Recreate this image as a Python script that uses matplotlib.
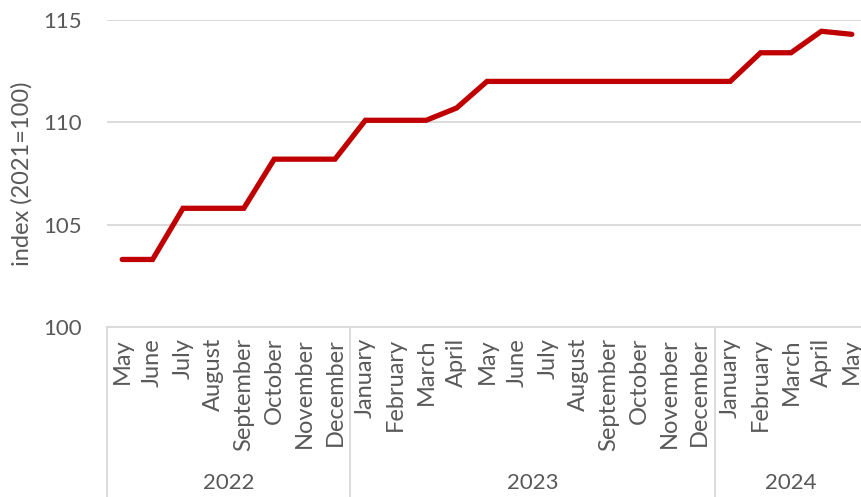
import matplotlib
matplotlib.use("Agg")
import matplotlib.pyplot as plt
import matplotlib.transforms as mtransforms

months = ["May", "June", "July", "August", "September", "October", "November", "December",
          "January", "February", "March", "April", "May", "June", "July", "August",
          "September", "October", "November", "December",
          "January", "February", "March", "April", "May"]
values = [103.3, 103.3, 105.8, 105.8, 105.8, 108.2, 108.2, 108.2,
          110.1, 110.1, 110.1, 110.7, 112.0, 112.0, 112.0, 112.0,
          112.0, 112.0, 112.0, 112.0,
          112.0, 113.4, 113.4, 114.45, 114.3]
years = ["2022", "2023", "2024"]
year_counts = [8, 12, 5]
yticks = [100, 105, 110, 115]

W, H = 861, 497
fig = plt.figure(figsize=(W / 100, H / 100), dpi=100)
plt.rcParams['font.family'] = ['Lato', 'DejaVu Sans']
txt = '#595959'
grid = '#d9d9d9'

left, right, top, bottom = 107, 867, 20, 327
ax = fig.add_axes([left / W, 1 - bottom / H, (right - left) / W, (bottom - top) / H])
x = list(range(len(values)))
ax.plot(x, values, color='#c00000', lw=3.8, solid_capstyle='round', solid_joinstyle='miter', zorder=3)
ax.set_xlim(-0.5, len(values) - 0.5)
ax.set_ylim(100, 115)
ax.set_yticks(yticks)
ax.set_yticklabels([str(t) for t in yticks], fontsize=16, color=txt)
ax.tick_params(axis='y', length=0, pad=18)
for t in yticks[1:]:
    ax.axhline(t, color=grid, lw=1.3, zorder=1)
for s in ['top', 'right', 'left']:
    ax.spines[s].set_visible(False)
ax.spines['bottom'].set_color(grid)
ax.spines['bottom'].set_linewidth(1.3)
ax.set_xticks(x)
ax.set_xticklabels(months, rotation=90, fontsize=17, color=txt, va='top', ha='center')
ax.tick_params(axis='x', length=0, pad=8)
ax.set_ylabel("index (2021=100)", fontsize=17, color=txt, labelpad=8)

trans = mtransforms.blended_transform_factory(ax.transData, ax.transAxes)
depth = -(H - bottom + 5) / (bottom - top)
bounds = [-0.5]
for c in year_counts:
    bounds.append(bounds[-1] + c)
for b in bounds:
    ax.plot([b, b], [0, depth], transform=trans, color=grid, lw=1.3, clip_on=False)
yy = -(483 - bottom) / (bottom - top)
for i, yr in enumerate(years):
    cx = (bounds[i] + bounds[i + 1]) / 2
    ax.text(cx, yy, yr, transform=trans, ha='center', va='center', fontsize=16, color=txt)

fig.savefig("out.png", dpi=100)
